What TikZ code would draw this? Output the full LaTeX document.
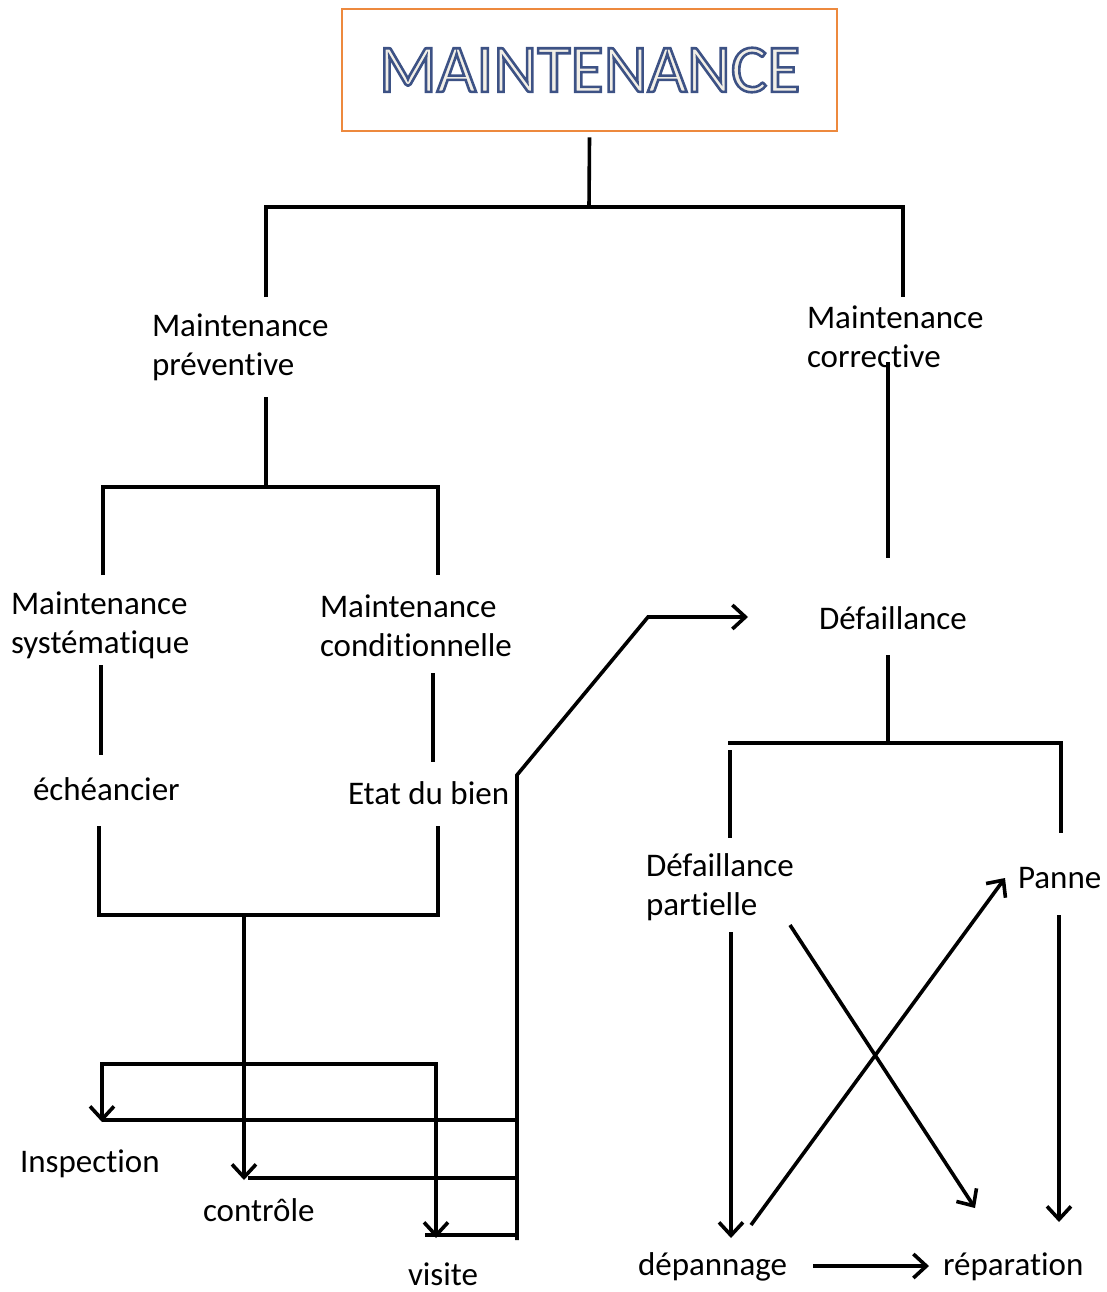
\documentclass[tikz,border=0pt]{standalone}
\usepackage{fontspec}
\setmainfont[Ligatures=NoCommon]{Carlito}
\usetikzlibrary{arrows.meta}
\definecolor{boxorange}{RGB}{237,137,62}
\definecolor{titlefill}{RGB}{242,239,231}
\newcommand\outlined[1]{{\color{titlefill}%
  \special{pdf:literal direct 2 Tr 2.6 w 0.24 0.32 0.52 RG}#1%
  \special{pdf:literal direct 0 Tr}}}

\begin{document}
\begin{tikzpicture}[x=1pt,y=-1pt]
  \tikzset{
    lbl/.style = {inner sep=0pt, outer sep=0pt, anchor=base west,
      align=left, font=\fontsize{33}{38.5}\selectfont},
    wire/.style = {line width=3.6pt},
    barb/.tip = {Straight Barb[length=13pt,width=24pt]},
    arr/.style = {wire, -barb},
    twoarr/.style = {wire, barb-barb}
  }
  \useasboundingbox (0,0) rectangle (1107,1292);

  \node[draw=boxorange, line width=2.8pt, minimum width=495pt,
    minimum height=122pt, inner sep=0pt] (title) at (589.5,70)
    {\fontsize{68}{80}\selectfont\outlined{MAINTENANCE}};

  % two-line labels sit on the baseline of their last line
  \node[lbl] (prev) at (152,375) {Maintenance\\préventive};
  \node[lbl] (corr) at (807,367) {Maintenance\\corrective};
  \node[lbl] (sys) at (11,653) {Maintenance\\systématique};
  \node[lbl] (cond) at (320,656) {Maintenance\\conditionnelle};
  \node[lbl] (ech) at (33,800) {échéancier};
  \node[lbl] (etat) at (348,804) {Etat du bien};
  \node[lbl] (def) at (819,629) {Défaillance};
  \node[lbl] (defp) at (646,915) {Défaillance\\partielle};
  \node[lbl] (panne) at (1018,888) {Panne};
  \node[lbl] (insp) at (20,1172) {Inspection};
  \node[lbl] (ctrl) at (203,1221) {contrôle};
  \node[lbl] (visite) at (408,1285) {visite};
  \node[lbl] (depan) at (638,1275) {dépannage};
  \node[lbl] (repar) at (943,1275) {réparation};

  % preventive side
  \coordinate (split) at (589,207);
  \draw[wire] ([yshift=-5pt]title.south) -- (split);
  \draw[wire] (266,297) |- (split) -| (903,297);
  \draw[wire] (266,397) -- (266,487);
  \draw[wire] (103,575) |- (266,487) -| (438,575);
  \draw[wire] (101,665) -- (101,755);
  \draw[wire] (433,673) -- (433,762);
  \coordinate (merge) at (244,915);
  \draw[wire] (99,826) |- (merge) -| (438,826);
  \draw[arr] (merge) -- ([xshift=41pt,yshift=41pt]ctrl.base west);
  \draw[twoarr] ([xshift=82pt,yshift=50pt]insp.base west) |- (269,1064)
    -| ([xshift=28pt,yshift=47pt]visite.base west);
  \coordinate (riser) at (517,1240);
  \draw[arr] (riser) -- (517,775) -- (648,617)
    -- ([xshift=-71pt,yshift=12pt]def.base west);
  \draw[wire] (517,1120) -- (102,1120) (517,1178) -- (248,1178)
    (517,1235) -- (425,1235);

  % corrective side
  \draw[wire] (888,362) -- (888,558);
  \draw[wire] (888,655) -- (888,742);
  \draw[wire] (728,743) -- (1061,743) -- (1061,833) (730,750) -- (730,838);
  \draw[arr] ([xshift=85pt,yshift=-17pt]defp.base west)
    -- ([xshift=93pt,yshift=37pt]depan.base west);
  \draw[arr] ([xshift=144pt,yshift=-10pt]defp.base west)
    -- ([xshift=32pt,yshift=67pt]repar.base west);
  \draw[arr] ([xshift=113pt,yshift=50pt]depan.base west)
    -- ([xshift=-13pt,yshift=10pt]panne.base west);
  \draw[arr] ([xshift=41pt,yshift=-27pt]panne.base west)
    -- ([xshift=116pt,yshift=53pt]repar.base west);
  \draw[arr] ([xshift=175pt,yshift=9pt]depan.base west)
    -- ([xshift=-14pt,yshift=9pt]repar.base west);
\end{tikzpicture}
\end{document}
